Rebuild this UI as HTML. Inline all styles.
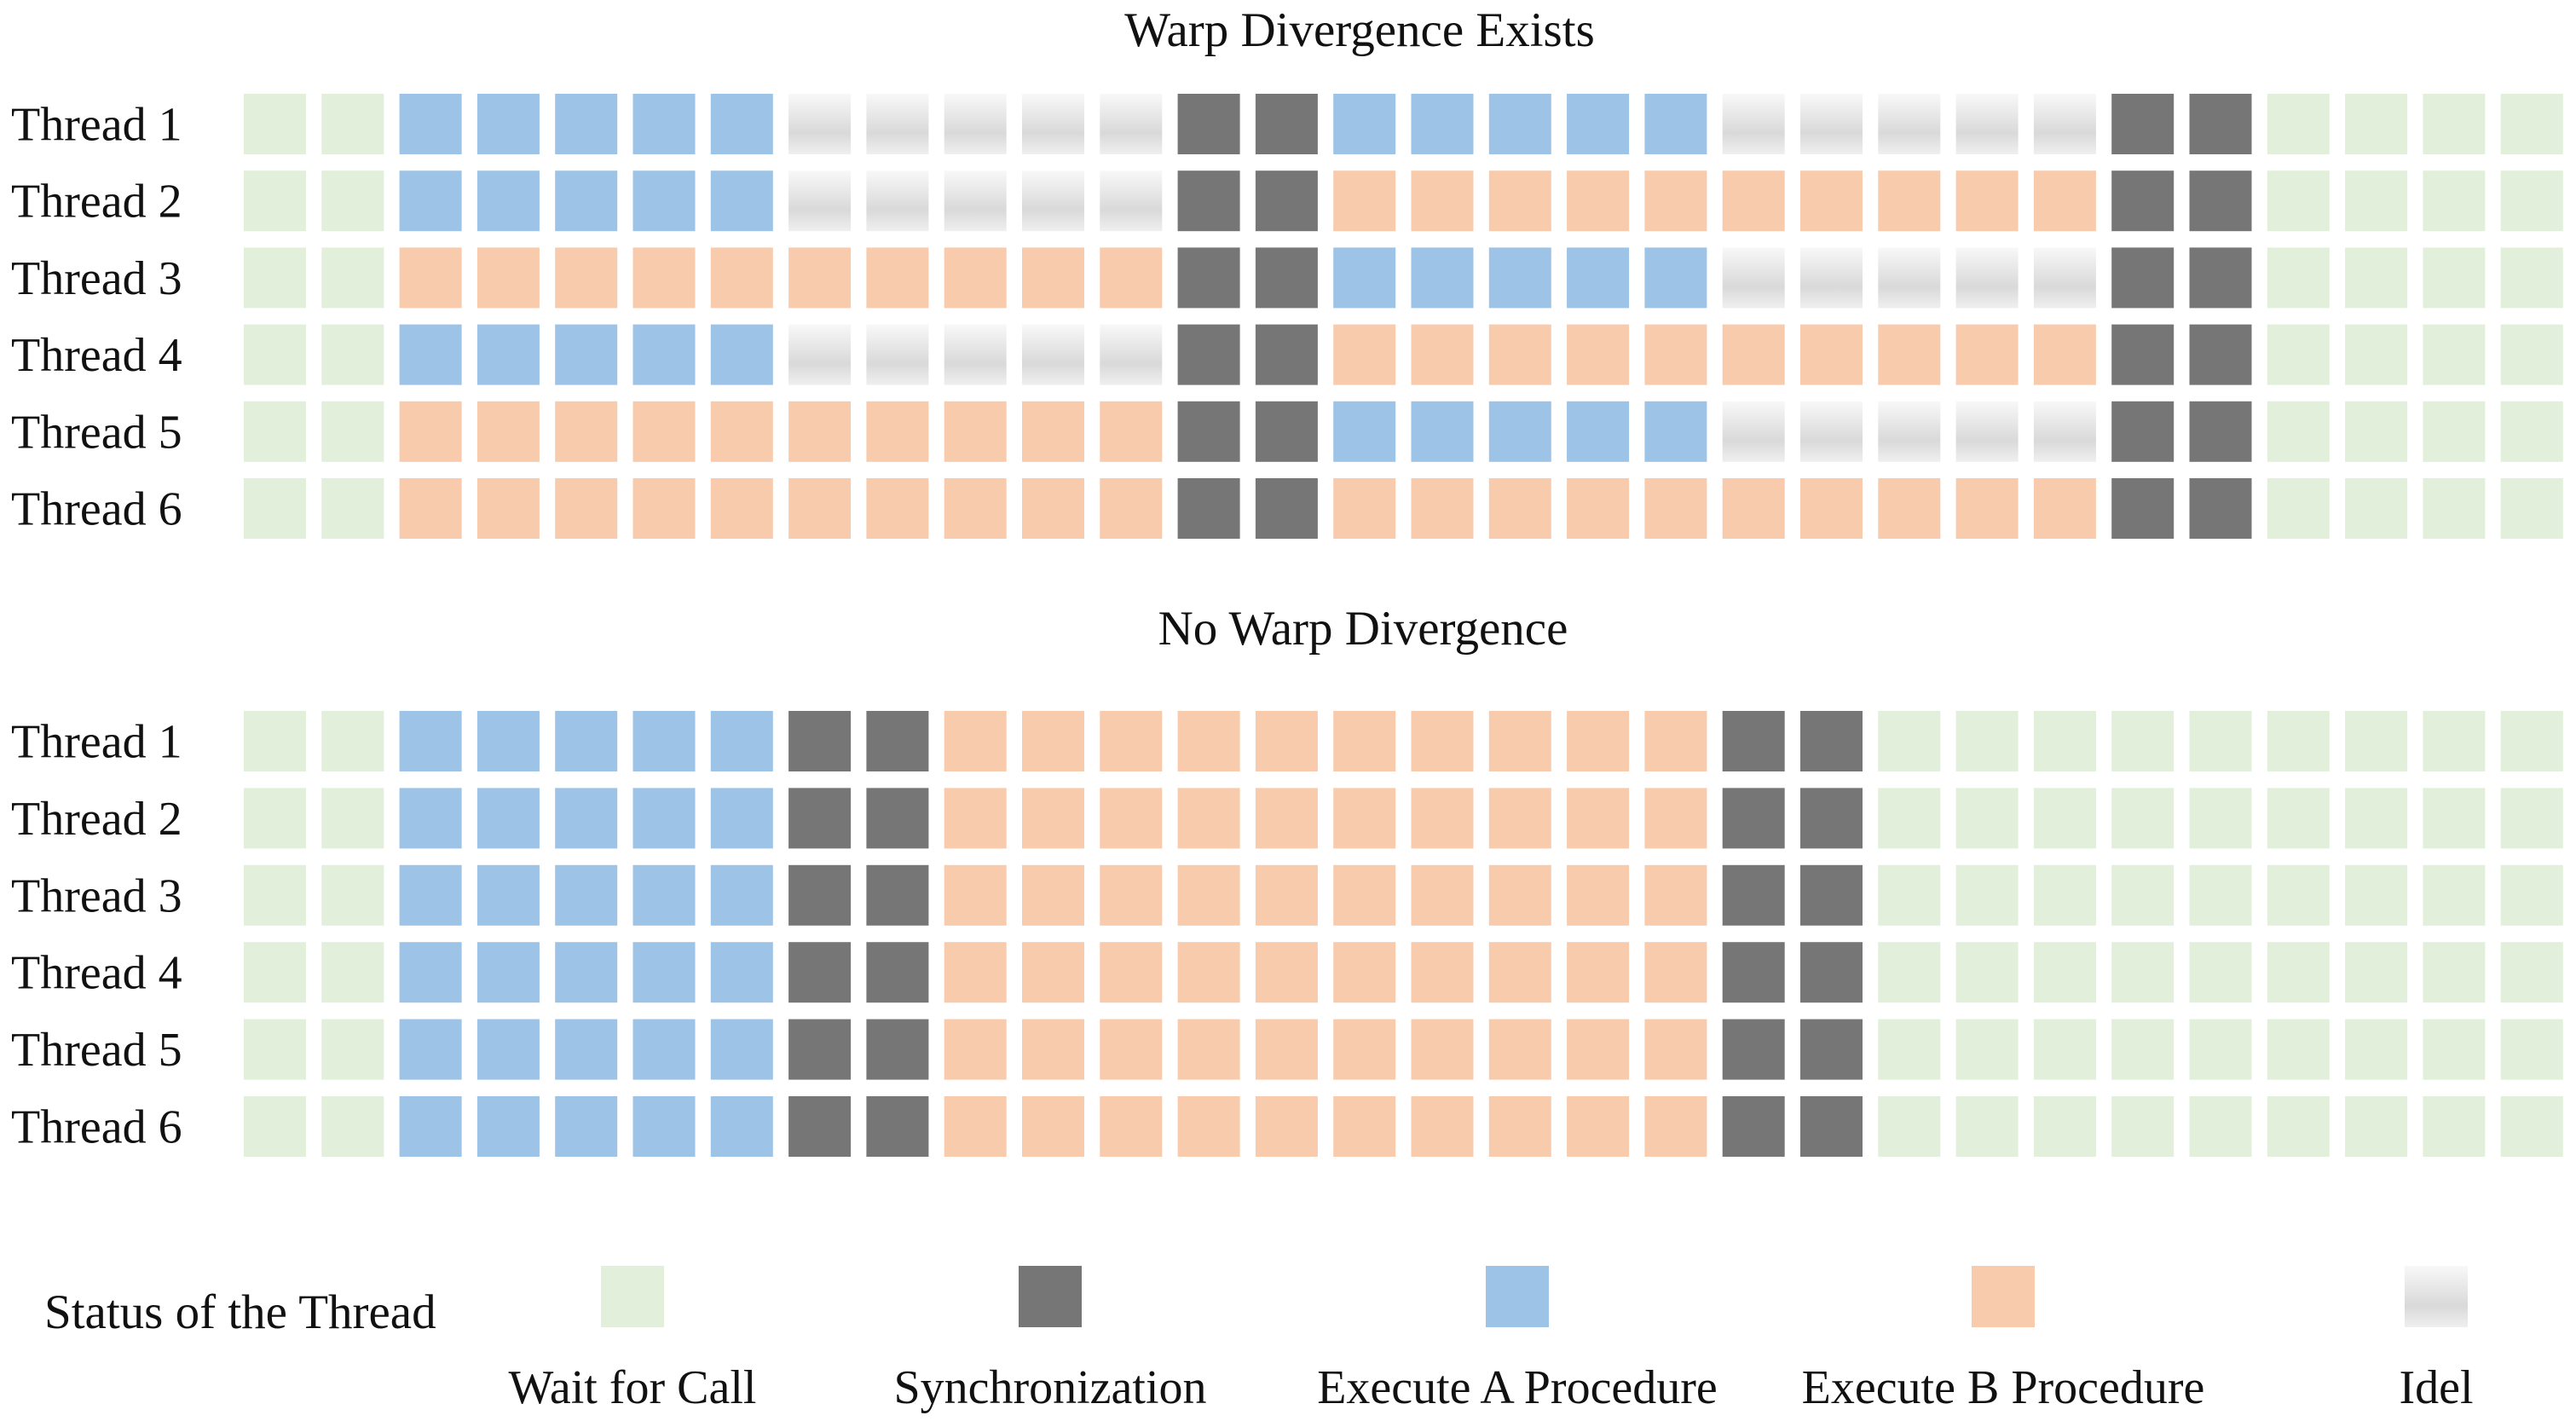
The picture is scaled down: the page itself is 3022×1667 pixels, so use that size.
<!DOCTYPE html>
<html><head><meta charset="utf-8">
<style>
html,body{margin:0;padding:0;background:#fff;}
svg{display:block;}
text{font-family:"Liberation Serif",serif;fill:#111;}
</style></head>
<body>
<svg id="chart" width="3022" height="1667" viewBox="0 0 3022 1667" xmlns="http://www.w3.org/2000/svg">
<defs>
<linearGradient id="idleGrad" x1="0" y1="0" x2="0" y2="1">
<stop offset="0" stop-color="#f8f8f8"/>
<stop offset="0.65" stop-color="#d9d9d9"/>
<stop offset="1" stop-color="#efefef"/>
</linearGradient>
</defs>
<text x="1595" y="54" font-size="57" text-anchor="middle">Warp Divergence Exists</text>
<text x="1599" y="756" font-size="57" text-anchor="middle">No Warp Divergence</text>
<g id="topGrid"></g>
<g id="bottomGrid"></g>
<g id="legend">
<text x="52" y="1558" font-size="57">Status of the Thread</text>
</g>
</svg>
<script>
// G=wait for call, S=synchronization, A=execute A, B=execute B, I=idle
const threadLabels = ["Thread 1","Thread 2","Thread 3","Thread 4","Thread 5","Thread 6"];
const topStates = [
 "GGAAAAAIIIIISSAAAAAIIIIISSGGGG",
 "GGAAAAAIIIIISSBBBBBBBBBBSSGGGG",
 "GGBBBBBBBBBBSSAAAAAIIIIISSGGGG",
 "GGAAAAAIIIIISSBBBBBBBBBBSSGGGG",
 "GGBBBBBBBBBBSSAAAAAIIIIISSGGGG",
 "GGBBBBBBBBBBSSBBBBBBBBBBSSGGGG"
];
const bottomStates = [
 "GGAAAAASSBBBBBBBBBBSSGGGGGGGGG",
 "GGAAAAASSBBBBBBBBBBSSGGGGGGGGG",
 "GGAAAAASSBBBBBBBBBBSSGGGGGGGGG",
 "GGAAAAASSBBBBBBBBBBSSGGGGGGGGG",
 "GGAAAAASSBBBBBBBBBBSSGGGGGGGGG",
 "GGAAAAASSBBBBBBBBBBSSGGGGGGGGG"
];
const legendCodes = ["G","S","A","B","I"];
const legendLabels = ["Wait for Call","Synchronization","Execute A Procedure","Execute B Procedure","Idel"];
const legendCenters = [742, 1232, 1780, 2350, 2858];

const NS = "http://www.w3.org/2000/svg";
const fills = {G:"#e2efda",S:"#767676",A:"#9dc3e6",B:"#f8cbad",I:"url(#idleGrad)"};
const names = {G:"wait",S:"sync",A:"exec-a",B:"exec-b",I:"idle"};
const colX = c => 286 + c*91.3;
const cellW = 73, cellH = 71;

function drawPanel(g, states, y0, pitch, prefix){
  states.forEach((row, r) => {
    const y = y0 + r*pitch;
    const t = document.createElementNS(NS,"text");
    
    
    t.setAttribute("x", 13); t.setAttribute("y", y + cellH/2 + 19);
    t.setAttribute("font-size", "56");
    t.textContent = threadLabels[r];
    g.appendChild(t);
    row.split("").forEach((code, c) => {
      const rc = document.createElementNS(NS,"rect");
      
      
      rc.setAttribute("x", colX(c)); rc.setAttribute("y", y);
      rc.setAttribute("width", cellW); rc.setAttribute("height", cellH);
      rc.setAttribute("fill", fills[code]);
      g.appendChild(rc);
    });
  });
}
drawPanel(document.getElementById("topGrid"), topStates, 110, 90.2, "top");
drawPanel(document.getElementById("bottomGrid"), bottomStates, 834, 90.4, "bottom");

const lg = document.getElementById("legend");
legendCodes.forEach((code, i) => {
  const cx = legendCenters[i];
  const rc = document.createElementNS(NS,"rect");
  
  
  rc.setAttribute("x", cx - 37); rc.setAttribute("y", 1485);
  rc.setAttribute("width", 74); rc.setAttribute("height", 72);
  rc.setAttribute("fill", fills[code]);
  lg.appendChild(rc);
  const t = document.createElementNS(NS,"text");
  
  
  t.setAttribute("x", cx); t.setAttribute("y", 1646);
  t.setAttribute("font-size", "56"); t.setAttribute("text-anchor", "middle");
  t.textContent = legendLabels[i];
  lg.appendChild(t);
});
</script>
</body></html>
